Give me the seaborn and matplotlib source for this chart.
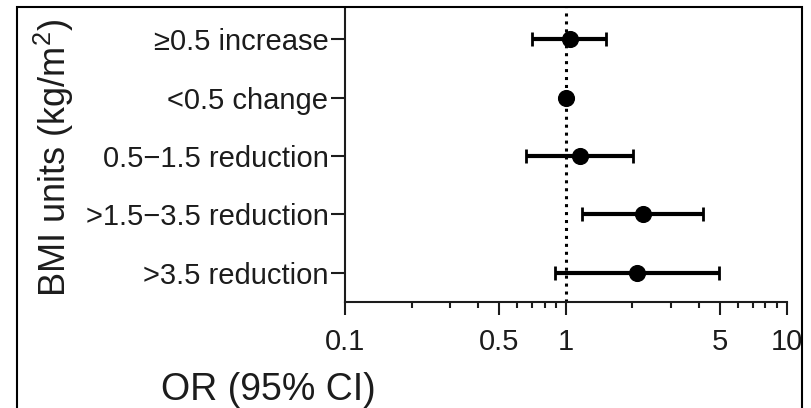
import numpy as np
import seaborn as sns
import matplotlib
matplotlib.use("Agg")
import matplotlib.pyplot as plt
from matplotlib.patches import Rectangle
from matplotlib.ticker import FixedLocator, LogLocator, NullFormatter


# dados (OR e IC 95%)
categorias = ["\u22650.5 increase", "<0.5 change", "0.5\u22121.5 reduction",
              ">1.5\u22123.5 reduction", ">3.5 reduction"]
odds_ratio = [1.04, 1.00, 1.16, 2.23, 2.10]
ic_inf = [0.70, 0.97, 0.66, 1.18, 0.89]
ic_sup = [1.52, 1.03, 2.01, 4.17, 4.92]
xticks = [0.1, 0.5, 1, 5, 10]
xtick_labels = ["0.1", "0.5", "1", "5", "10"]

sns.set_style("ticks")
plt.rcParams["font.family"] = ["Liberation Sans", "DejaVu Sans"]
plt.rcParams["mathtext.fontset"] = "custom"
plt.rcParams["mathtext.rm"] = "Liberation Sans"
plt.rcParams["mathtext.default"] = "regular"

cor = "#1c1c1c"
fig = plt.figure(figsize=(8.12, 4.08), dpi=100)
ax = fig.add_axes([0.425, 0.26, 0.544, 0.72])

ax.set_xscale("log")
pos = np.arange(len(categorias))
ax.axvline(1, color="black", linestyle=(0, (1, 1.6)), linewidth=2.2, zorder=1)

odds = np.array(odds_ratio)
err = [odds - np.array(ic_inf), np.array(ic_sup) - odds]
ax.errorbar(odds, pos, xerr=err, fmt="none", ecolor="black",
            elinewidth=3, capsize=5, capthick=2, zorder=2)
sns.scatterplot(x=odds_ratio, y=pos, ax=ax, color="black", s=130,
                edgecolor="black", zorder=3, legend=False)

ax.set_xlim(0.1, 10)
ax.set_ylim(4.5, -0.53)
ax.set_yticks(pos)
ax.set_yticklabels(categorias)
ax.xaxis.set_major_locator(FixedLocator(xticks))
ax.set_xticklabels(xtick_labels)
ax.xaxis.set_minor_locator(LogLocator(base=10, subs=np.arange(2, 10)))
ax.xaxis.set_minor_formatter(NullFormatter())

sns.despine(ax=ax)
for s in ["left", "bottom"]:
    ax.spines[s].set_linewidth(1.5)
    ax.spines[s].set_color(cor)

ax.tick_params(axis="y", length=10, width=1.5, pad=2, labelsize=21,
               color=cor, labelcolor=cor)
ax.tick_params(axis="x", which="major", length=9, width=1.5, pad=10,
               labelsize=21, color=cor, labelcolor=cor)
ax.tick_params(axis="x", which="minor", length=4, width=1.5, color=cor)

ax.set_ylabel("BMI units (kg/m$^2$)", fontsize=26, color=cor, va="center")
ax.yaxis.set_label_coords(-0.66, 0.49)
ax.set_xlabel("OR (95% CI)", fontsize=27, color=cor, va="center")
ax.xaxis.set_label_coords(-0.174, -0.30)

# moldura da imagem
fig.patches.append(Rectangle((0.021, -0.02), 0.967, 1.003, transform=fig.transFigure,
                             fill=False, edgecolor="black", linewidth=1.5))

fig.savefig("out.png", dpi=100)
print("[OK] Gerado: out.png")
